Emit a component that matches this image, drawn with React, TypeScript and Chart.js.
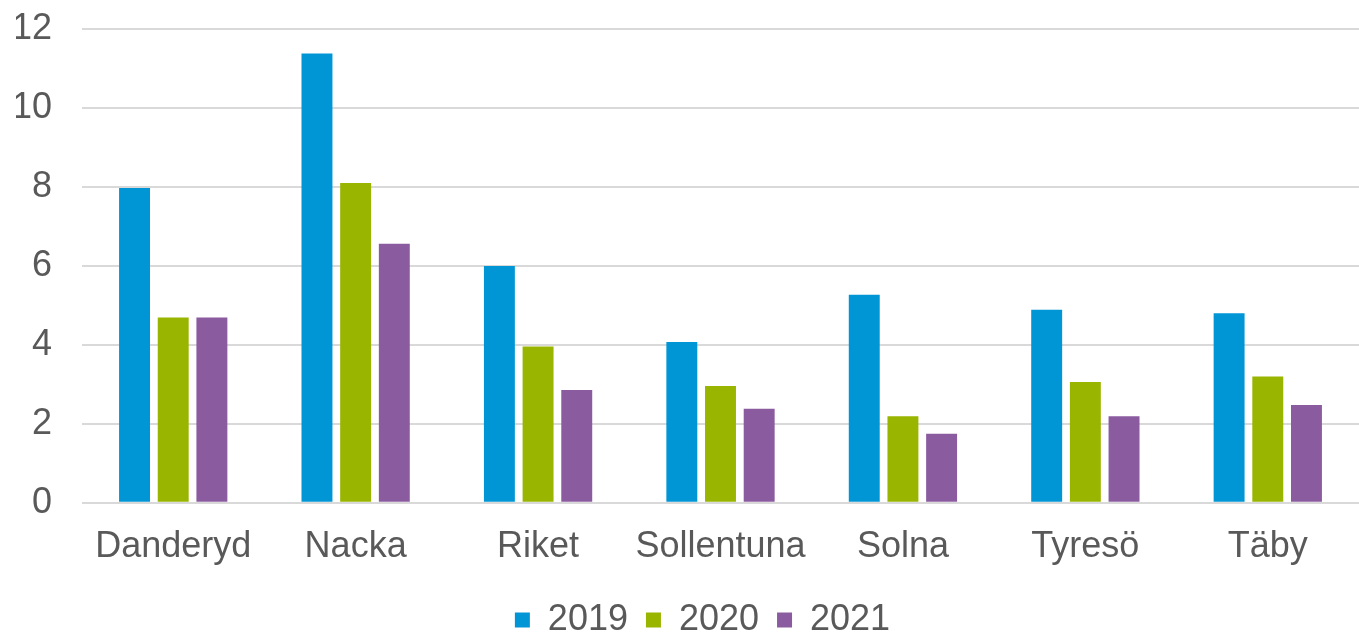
import React, { useEffect, useRef } from "react";
import { Chart, registerables } from "chart.js";

Chart.register(...registerables);

const categories = ["Danderyd", "Nacka", "Riket", "Sollentuna", "Solna", "Tyresö", "Täby"];
const seriesLabels = ["2019", "2020", "2021"];
const values2019 = [7.97, 11.38, 6.0, 4.07, 5.27, 4.89, 4.8];
const values2020 = [4.69, 8.1, 3.96, 2.96, 2.19, 3.06, 3.2];
const values2021 = [4.69, 6.56, 2.86, 2.38, 1.75, 2.19, 2.48];
const colors = ["#0096D6", "#99B500", "#8B5BA0"];
const yMin = 0;
const yMax = 12;
const yStep = 2;

const legendShift = {
  id: "legendShift",
  afterLayout(chart: any) {
    const lg = chart.legend;
    if (lg) {
      lg.left += 15;
      lg.right += 15;
    }
  },
};

export default function App() {
  const ref = useRef<HTMLCanvasElement | null>(null);
  useEffect(() => {
    document.body.style.margin = "0";
    const font = { family: "'Liberation Sans', Arial, sans-serif", size: 36 };
    const chart = new Chart(ref.current as HTMLCanvasElement, {
      type: "bar",
      data: {
        labels: categories,
        datasets: [values2019, values2020, values2021].map((d, i) => ({
          label: seriesLabels[i],
          data: d,
          backgroundColor: colors[i],
          borderWidth: 0,
          categoryPercentage: 0.636,
          barPercentage: 0.8,
        })),
      },
      plugins: [legendShift],
      options: {
        responsive: false,
        animation: false,
        layout: { padding: { left: 16, right: 0, top: 29, bottom: -15 } },
        plugins: {
          tooltip: { enabled: false },
          legend: {
            position: "bottom",
            labels: {
              font,
              color: "#595959",
              boxWidth: 15,
              boxHeight: 15,
              padding: 18,
            },
          },
        },
        scales: {
          x: {
            grid: { display: false },
            border: { display: false },
            ticks: { font, color: "#595959", padding: 15, maxRotation: 0 },
          },
          y: {
            min: yMin,
            max: yMax,
            afterFit: (scale: any) => {
              scale.width = 66;
              scale.paddingTop = 0;
              scale.paddingBottom = 0;
            },
            ticks: { stepSize: yStep, font, color: "#595959", padding: 30 },
            grid: { color: "#D9D9D9", lineWidth: 2, drawTicks: false },
            border: { display: false },
          },
        },
      },
    });
    return () => chart.destroy();
  }, []);
  return (
    <div style={{ position: "absolute", left: 0, top: 0, width: 1359, height: 633, background: "#fff" }}>
      <canvas ref={ref} width={1359} height={633} />
    </div>
  );
}
